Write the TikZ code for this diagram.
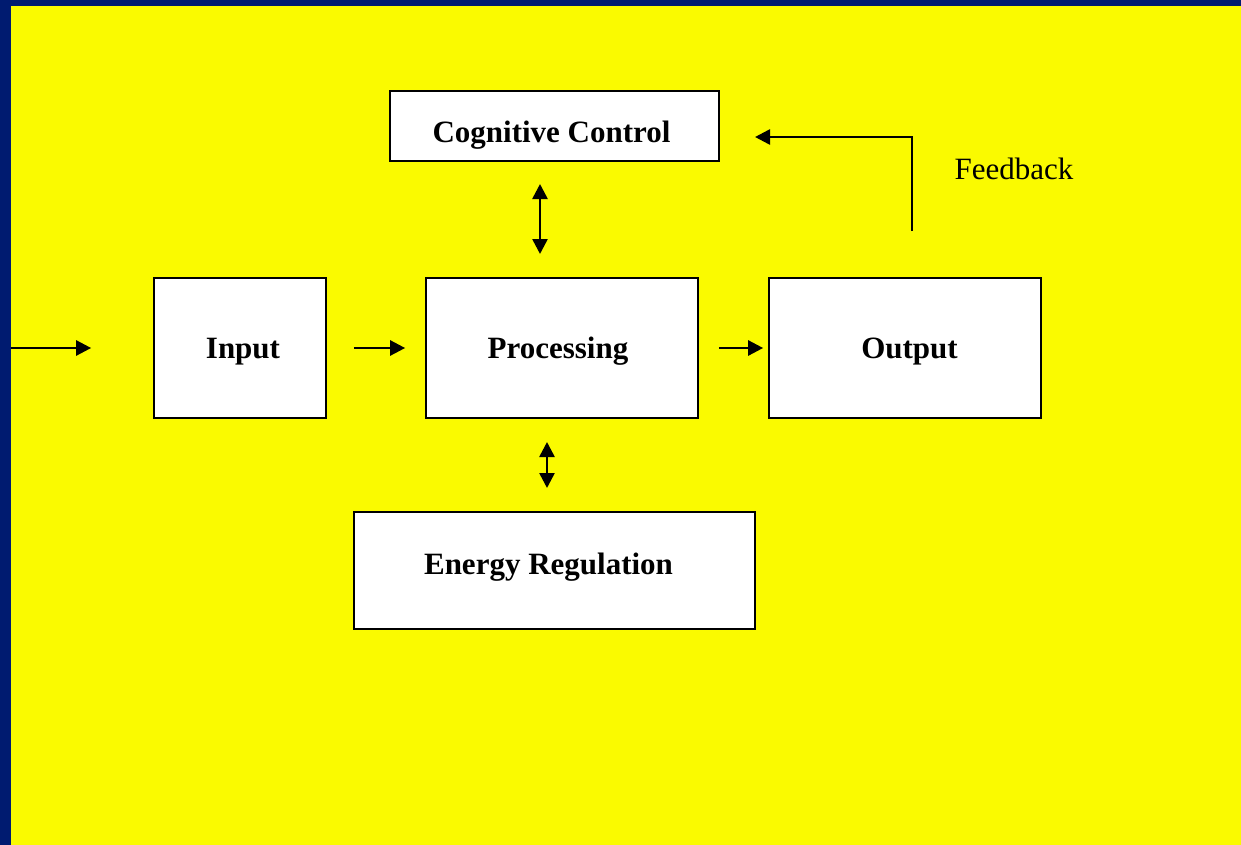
\documentclass[tikz,border=0pt]{standalone}
\usepackage{fontspec}
\setmainfont{Liberation Serif}
\usetikzlibrary{arrows.meta}
\definecolor{navyb}{RGB}{0,27,112}
\definecolor{yel}{RGB}{250,250,0}
\begin{document}
\begin{tikzpicture}[x=1pt,y=-1pt,
  box/.style={draw=black,fill=white,line width=1.7pt,inner sep=0pt},
  lbl/.style={font=\fontsize{31}{36}\selectfont\bfseries,anchor=base,inner sep=0pt},
  conn/.style={line width=2.6pt,-{Triangle[length=15pt,width=15pt]}},
  dconn/.style={line width=2.6pt,{Triangle[length=15pt,width=15pt]}-{Triangle[length=15pt,width=15pt]}}]
\useasboundingbox (0,0) rectangle (1241,845);
\fill[navyb] (0,0) rectangle (1241,845);
\fill[yel] (11,6) rectangle (1241,845);
\node[box,minimum width=329pt,minimum height=70pt] (cog) at (554.5,126) {};
\node[box,minimum width=172pt,minimum height=140pt] (input) at (240,348) {};
\node[box,minimum width=272pt,minimum height=140pt] (proc) at (562,348) {};
\node[box,minimum width=272pt,minimum height=140pt] (out) at (905,348) {};
\node[box,minimum width=401pt,minimum height=117pt] (energy) at (554.5,570.5) {};
\node[lbl] (cogt) at (551.5,143) {Cognitive Control};
\node[lbl] (inputt) at (243,358) {Input};
\node[lbl] (proct) at (558,358) {Processing};
\node[lbl] (outt) at (909.5,358) {Output};
\node[lbl] (energyt) at (548.5,574) {Energy Regulation};
\node[font=\fontsize{31}{36}\selectfont,anchor=center] (fb) at (1014,169) {Feedback};
\coordinate (src) at (11,348);
\draw[conn,shorten >=62pt] (src) -- (input.west);
\draw[conn,shorten <=27pt,shorten >=20pt] (input.east) -- (proc.west);
\draw[conn,shorten <=20pt,shorten >=5pt] (proc.east) -- (out.west);
\coordinate (c1) at (540,184);
\coordinate (c2) at (540,254);
\draw[dconn] (c1) -- (c2);
\coordinate (e1) at (547,442);
\coordinate (e2) at (547,488);
\draw[dconn] (e1) -- (e2);
\coordinate (f1) at (912,231);
\coordinate (f2) at (912,137);
\coordinate (f3) at (755,137);
\draw[conn] (f1) -- (f2) -- (f3);
\end{tikzpicture}
\end{document}
